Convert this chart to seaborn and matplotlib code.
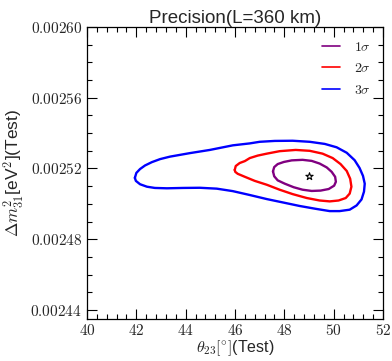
import matplotlib
matplotlib.use("Agg")
import matplotlib.pyplot as plt
import seaborn as sns
import pandas as pd
import numpy as np
from matplotlib.ticker import MultipleLocator, FixedLocator, FixedFormatter

# ---- data ----
# dm31 values in units of 1e-5 eV^2
blue_theta = [41.94, 42.00, 42.15, 42.35, 42.63, 42.96, 43.36, 44.17, 44.98, 45.91,
              46.60, 47.00, 47.61, 48.34, 49.03, 49.64, 50.12, 50.53, 50.85, 51.05,
              51.19, 51.26, 51.23, 51.13, 50.93, 50.65, 50.24, 49.84, 49.27, 48.62,
              47.94, 47.29, 46.60, 45.91, 45.26, 44.57, 43.89, 43.24, 42.75, 42.43,
              42.15, 41.98, 41.94]
blue_dm = [251.47, 251.75, 251.97, 252.17, 252.36, 252.53, 252.67, 252.87, 253.05, 253.31,
           253.42, 253.51, 253.56, 253.57, 253.51, 253.39, 253.20, 252.89, 252.47, 252.03,
           251.58, 251.14, 250.69, 250.25, 249.91, 249.67, 249.59, 249.59, 249.72, 249.88,
           250.08, 250.27, 250.50, 250.72, 250.86, 250.91, 250.90, 250.88, 250.90, 250.97,
           251.11, 251.30, 251.47]

red_theta = [45.99, 46.03, 46.19, 46.40, 46.60, 46.92, 47.29, 47.81, 48.46, 49.03,
             49.55, 49.96, 50.28, 50.53, 50.67, 50.72, 50.65, 50.49, 50.20, 49.84,
             49.43, 48.91, 48.34, 47.81, 47.29, 46.80, 46.40, 46.11, 46.01, 45.99]
red_dm = [251.92, 252.14, 252.31, 252.42, 252.59, 252.73, 252.84, 252.98, 253.05, 253.00,
          252.84, 252.59, 252.25, 251.86, 251.42, 250.97, 250.58, 250.33, 250.19, 250.14,
          250.19, 250.33, 250.55, 250.80, 251.08, 251.30, 251.53, 251.70, 251.81, 251.92]

purple_theta = [47.54, 47.59, 47.73, 47.98, 48.30, 48.74, 49.11, 49.43, 49.72, 49.92,
                50.06, 50.09, 50.02, 49.80, 49.47, 49.11, 48.74, 48.38, 48.02, 47.73,
                47.59, 47.54]
purple_dm = [251.84, 252.08, 252.25, 252.37, 252.46, 252.49, 252.43, 252.28, 252.06, 251.81,
             251.53, 251.25, 251.03, 250.84, 250.75, 250.73, 250.80, 250.94, 251.14, 251.33,
             251.56, 251.84]

best_theta = [49.0]
best_dm = [251.57]

levels = [r"$1\sigma$", r"$2\sigma$", r"$3\sigma$"]
level_colors = ["purple", "red", "blue"]

xticks = [40, 42, 44, 46, 48, 50, 52]
xticklabels = ["$40$", "$42$", "$44$", "$46$", "$48$", "$50$", "$52$"]
yticks = [0.00244, 0.00248, 0.00252, 0.00256, 0.00260]
yticklabels = ["$0.00244$", "$0.00248$", "$0.00252$", "$0.00256$", "$0.00260$"]

# ---- build table ----
frames = []
for lab, th, dm in [(levels[0], purple_theta, purple_dm),
                    (levels[1], red_theta, red_dm),
                    (levels[2], blue_theta, blue_dm)]:
    d = pd.DataFrame({"theta": th, "dm": np.array(dm) * 1e-5})
    d["level"] = lab
    frames.append(d)
df = pd.concat(frames, ignore_index=True)

sns.set_style("ticks")
plt.rcParams["mathtext.fontset"] = "cm"
plt.rcParams["font.family"] = ["Liberation Sans", "DejaVu Sans"]

fig = plt.figure(figsize=(3.92, 3.61), dpi=100)
ax = fig.add_axes([0.222, 0.117, 0.755, 0.808])

for lab, col in zip(levels, level_colors):
    sub = df[df["level"] == lab]
    sns.lineplot(data=sub, x="theta", y="dm", sort=False, estimator=None,
                 color=col, lw=1.7, label=lab, ax=ax)
for ln in ax.get_lines():
    ln.set_solid_joinstyle("round")
    ln.set_solid_capstyle("round")

ax.scatter(best_theta, np.array(best_dm) * 1e-5, marker="*", s=30,
           facecolor="white", edgecolor="black", linewidth=0.8, zorder=5)

ax.set_xlim(40, 52)
ax.set_ylim(0.002435, 0.00260)
ax.xaxis.set_major_locator(FixedLocator(xticks))
ax.xaxis.set_major_formatter(FixedFormatter(xticklabels))
ax.xaxis.set_minor_locator(MultipleLocator(0.4))
ax.yaxis.set_major_locator(FixedLocator(yticks))
ax.yaxis.set_major_formatter(FixedFormatter(yticklabels))
ax.yaxis.set_minor_locator(MultipleLocator(0.00001))
ax.tick_params(which="both", direction="in", top=True, right=True, labelsize=11,
               width=0.8, color="black")
ax.tick_params(which="major", length=7)
ax.tick_params(which="minor", length=3.5)
ax.tick_params(axis="x", which="major", pad=3)
for s in ax.spines.values():
    s.set_linewidth(0.9)
    s.set_color("black")

ax.set_xlabel(r"$\theta_{23}[^{\circ}]$(Test)", fontsize=11.5, labelpad=0.5)
ax.set_ylabel(r"$\Delta m^2_{31}$[eV$^2$](Test)", fontsize=12.5, labelpad=3)
ax.set_title("Precision(L=360 km)", fontsize=13.5, pad=2)

leg = ax.legend(loc="upper right", frameon=False, fontsize=10, handlelength=1.3,
                handletextpad=1.0, labelspacing=0.55, borderaxespad=0.5)
for hl in leg.get_lines():
    hl.set_linewidth(1.2)

fig.savefig("out.png", dpi=100)
